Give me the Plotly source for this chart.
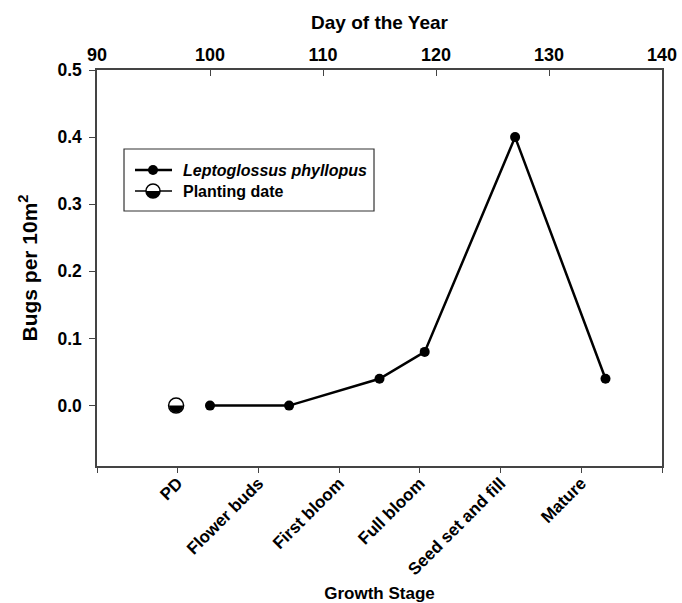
import plotly.graph_objects as go

# ---- data ----
stages = ["PD", "Flower buds", "First bloom", "Full bloom", "Seed set and fill", "Mature"]
stage_pos = [1, 2, 3, 4, 5, 6]
bug_days = [100, 107, 115, 119, 127, 135]
bug_values = [0.0, 0.0, 0.04, 0.08, 0.40, 0.04]
plant_day = [97]
plant_value = [0.0]
day_ticks = [90, 100, 110, 120, 130, 140]
y_ticks = [0.0, 0.1, 0.2, 0.3, 0.4, 0.5]
legend_labels = ["<i>Leptoglossus phyllopus</i>", "Planting date"]

FONT = "Liberation Sans, Arial, sans-serif"

fig = go.Figure()

# invisible trace to anchor the bottom (growth stage) axis
fig.add_trace(go.Scatter(x=stage_pos, y=[None] * len(stage_pos), xaxis="x", yaxis="y",
                         mode="markers", showlegend=False, hoverinfo="skip"))

fig.add_trace(go.Scatter(
    x=bug_days, y=bug_values, xaxis="x2", yaxis="y",
    mode="lines+markers", name=legend_labels[0], showlegend=False,
    line=dict(color="black", width=2.5),
    marker=dict(color="black", size=10),
))
fig.add_trace(go.Scatter(
    x=plant_day, y=plant_value, xaxis="x2", yaxis="y",
    mode="lines+markers", name=legend_labels[1], showlegend=False,
    line=dict(color="black", width=1.5),
    marker=dict(color="white", size=15, line=dict(color="black", width=1.5)),
))

def lower_half(r, cx=0, cy=0):
    k = 0.5523 * r
    return (f"M {cx - r},{cy} C {cx - r},{cy - k} {cx - k},{cy - r} {cx},{cy - r} "
            f"C {cx + k},{cy - r} {cx + r},{cy - k} {cx + r},{cy} Z")

# filled lower half of the planting-date symbol (on the plot)
fig.add_shape(type="path", xref="x2", yref="y", xsizemode="pixel", ysizemode="pixel",
              xanchor=plant_day[0], yanchor=plant_value[0], path=lower_half(7),
              fillcolor="black", line=dict(width=0), layer="above")

# ---- legend drawn as layout shapes + text (anchor = top-left corner of the box) ----
LX, LY = 0.0478, 0.8005
common = dict(xref="paper", yref="paper", xsizemode="pixel", ysizemode="pixel",
              xanchor=LX, yanchor=LY, layer="above")
fig.add_shape(type="rect", x0=0, x1=250, y0=0, y1=-62, fillcolor="white",
              line=dict(color="#333", width=1.2), **common)
rows = [-21, -42]
# row 1: line + filled dot
fig.add_shape(type="line", x0=11, x1=48, y0=rows[0], y1=rows[0],
              line=dict(color="black", width=2.5), **common)
fig.add_shape(type="circle", x0=29 - 5, x1=29 + 5, y0=rows[0] - 5, y1=rows[0] + 5,
              fillcolor="black", line=dict(color="black", width=0), **common)
# row 2: line + half-filled circle
fig.add_shape(type="line", x0=11, x1=48, y0=rows[1], y1=rows[1],
              line=dict(color="black", width=1.5), **common)
fig.add_shape(type="circle", x0=29 - 7, x1=29 + 7, y0=rows[1] - 7, y1=rows[1] + 7,
              fillcolor="white", line=dict(color="black", width=1.5), **common)
fig.add_shape(type="path", path=lower_half(7, 29, rows[1]), fillcolor="black",
              line=dict(width=0), **common)
for lab, dy in zip(legend_labels, rows):
    fig.add_annotation(xref="paper", yref="paper",
                       x=LX + 57 / 565, y=LY + dy / 396,
                       xanchor="left", yanchor="middle", showarrow=False,
                       text=lab, font=dict(family=FONT, size=16, color="black", weight="bold"))

fig.update_layout(
    width=682, height=603,
    margin=dict(l=97, r=20, t=70, b=137, autoexpand=False),
    paper_bgcolor="white", plot_bgcolor="white",
    font=dict(family=FONT, size=16, color="black", weight="bold"),
    showlegend=False,
    xaxis=dict(range=[0, 7], tickvals=stage_pos, ticktext=stages, tickangle=-45,
               ticks="outside", ticklen=5, tickcolor="#444", tickwidth=1,
               minor=dict(tickvals=[0, 7], ticks="outside", ticklen=5,
                          tickcolor="#444", tickwidth=1, showgrid=False),
               showline=True, linecolor="#444", linewidth=1.5,
               showgrid=False, zeroline=False,
               tickfont=dict(size=17), ticklabelstandoff=-6,
               title=dict(text="Growth Stage", font=dict(size=17), standoff=9)),
    xaxis2=dict(range=[90, 140], overlaying="x", side="top", tickvals=day_ticks,
                ticks="inside", ticklen=6, tickcolor="#444", tickwidth=1,
                showline=True, linecolor="#444", linewidth=1.5,
                showgrid=False, zeroline=False,
                tickfont=dict(size=18),
                title=dict(text="Day of the Year", font=dict(size=19), standoff=10)),
    yaxis=dict(range=[-0.09, 0.5], tickvals=y_ticks, tickformat=".1f",
               ticks="outside", ticklen=6, tickcolor="#444", tickwidth=1,
               showline=True, linecolor="#444", linewidth=1.5, mirror=True,
               showgrid=False, zeroline=False,
               tickfont=dict(size=17.5), ticklabelstandoff=4,
               title=dict(text="Bugs per 10m<sup>2</sup>", font=dict(size=21), standoff=14)),
)

fig.write_html("out.html")
